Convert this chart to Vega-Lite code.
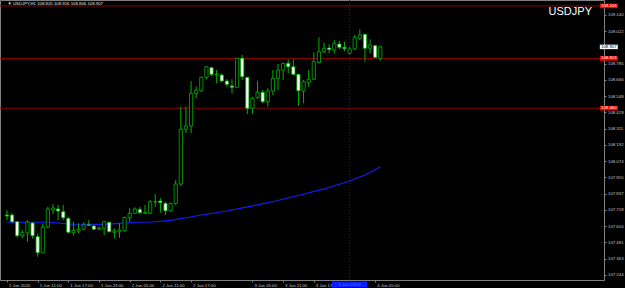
{
  "$schema": "https://vega.github.io/schema/vega-lite/v6.json",
  "width": 604,
  "height": 280,
  "autosize": {"type": "none"},
  "padding": {"left": 0, "top": 0, "right": 21, "bottom": 8},
  "background": "#000000",
  "config": {
    "view": {"stroke": "#808080", "strokeWidth": 1},
    "font": "Liberation Sans",
    "axis": {
      "labelOverlap": false,
      "labelFlush": false,
      "labelBound": false,
      "grid": false,
      "title": null,
      "domainColor": "#808080",
      "tickColor": "#808080",
      "tickSize": 2,
      "labelColor": "#c8c8c8",
      "labelFontSize": 4.3,
      "labelFont": "Liberation Sans"
    }
  },
  "datasets": {
    "candles": [
      {"i":0,"o":107.681,"h":107.717,"l":107.644,"c":107.674},
      {"i":1,"o":107.681,"h":107.695,"l":107.623,"c":107.632},
      {"i":2,"o":107.632,"h":107.637,"l":107.515,"c":107.530},
      {"i":3,"o":107.530,"h":107.571,"l":107.511,"c":107.552},
      {"i":4,"o":107.550,"h":107.644,"l":107.486,"c":107.630},
      {"i":5,"o":107.623,"h":107.628,"l":107.511,"c":107.530},
      {"i":6,"o":107.523,"h":107.547,"l":107.377,"c":107.406},
      {"i":7,"o":107.406,"h":107.620,"l":107.402,"c":107.593},
      {"i":8,"o":107.593,"h":107.741,"l":107.584,"c":107.725},
      {"i":9,"o":107.717,"h":107.761,"l":107.688,"c":107.732},
      {"i":10,"o":107.725,"h":107.754,"l":107.644,"c":107.710},
      {"i":11,"o":107.705,"h":107.754,"l":107.644,"c":107.661},
      {"i":12,"o":107.657,"h":107.668,"l":107.547,"c":107.555},
      {"i":13,"o":107.552,"h":107.632,"l":107.530,"c":107.569},
      {"i":14,"o":107.564,"h":107.620,"l":107.547,"c":107.577},
      {"i":15,"o":107.577,"h":107.628,"l":107.571,"c":107.608},
      {"i":16,"o":107.610,"h":107.644,"l":107.601,"c":107.606},
      {"i":17,"o":107.601,"h":107.608,"l":107.571,"c":107.577},
      {"i":18,"o":107.577,"h":107.596,"l":107.571,"c":107.586},
      {"i":19,"o":107.584,"h":107.639,"l":107.535,"c":107.632},
      {"i":20,"o":107.628,"h":107.632,"l":107.555,"c":107.559},
      {"i":21,"o":107.555,"h":107.584,"l":107.511,"c":107.566},
      {"i":22,"o":107.559,"h":107.620,"l":107.515,"c":107.571},
      {"i":23,"o":107.566,"h":107.668,"l":107.559,"c":107.664},
      {"i":24,"o":107.661,"h":107.730,"l":107.632,"c":107.693},
      {"i":25,"o":107.693,"h":107.737,"l":107.688,"c":107.725},
      {"i":26,"o":107.722,"h":107.741,"l":107.688,"c":107.698},
      {"i":27,"o":107.693,"h":107.754,"l":107.688,"c":107.700},
      {"i":28,"o":107.693,"h":107.790,"l":107.688,"c":107.778},
      {"i":29,"o":107.776,"h":107.834,"l":107.741,"c":107.779},
      {"i":30,"o":107.783,"h":107.803,"l":107.698,"c":107.771},
      {"i":31,"o":107.766,"h":107.778,"l":107.681,"c":107.712},
      {"i":32,"o":107.712,"h":107.771,"l":107.705,"c":107.766},
      {"i":33,"o":107.766,"h":107.936,"l":107.754,"c":107.907},
      {"i":34,"o":107.907,"h":108.471,"l":107.892,"c":108.306},
      {"i":35,"o":108.306,"h":108.471,"l":108.279,"c":108.330},
      {"i":36,"o":108.330,"h":108.658,"l":108.277,"c":108.568},
      {"i":37,"o":108.568,"h":108.617,"l":108.532,"c":108.593},
      {"i":38,"o":108.587,"h":108.690,"l":108.580,"c":108.685},
      {"i":39,"o":108.685,"h":108.768,"l":108.671,"c":108.762},
      {"i":40,"o":108.755,"h":108.762,"l":108.695,"c":108.707},
      {"i":41,"o":108.704,"h":108.738,"l":108.641,"c":108.709},
      {"i":42,"o":108.702,"h":108.714,"l":108.653,"c":108.658},
      {"i":43,"o":108.658,"h":108.671,"l":108.617,"c":108.634},
      {"i":44,"o":108.622,"h":108.671,"l":108.568,"c":108.612},
      {"i":45,"o":108.612,"h":108.826,"l":108.612,"c":108.824},
      {"i":46,"o":108.824,"h":108.848,"l":108.666,"c":108.690},
      {"i":47,"o":108.685,"h":108.685,"l":108.418,"c":108.459},
      {"i":48,"o":108.459,"h":108.544,"l":108.418,"c":108.532},
      {"i":49,"o":108.539,"h":108.660,"l":108.527,"c":108.576},
      {"i":50,"o":108.576,"h":108.593,"l":108.496,"c":108.507},
      {"i":51,"o":108.507,"h":108.605,"l":108.471,"c":108.585},
      {"i":52,"o":108.585,"h":108.738,"l":108.556,"c":108.678},
      {"i":53,"o":108.678,"h":108.782,"l":108.593,"c":108.738},
      {"i":54,"o":108.738,"h":108.792,"l":108.666,"c":108.787},
      {"i":55,"o":108.787,"h":108.816,"l":108.714,"c":108.762},
      {"i":56,"o":108.762,"h":108.816,"l":108.702,"c":108.707},
      {"i":57,"o":108.707,"h":108.709,"l":108.476,"c":108.587},
      {"i":58,"o":108.585,"h":108.666,"l":108.496,"c":108.653},
      {"i":59,"o":108.646,"h":108.738,"l":108.617,"c":108.671},
      {"i":60,"o":108.671,"h":108.868,"l":108.666,"c":108.799},
      {"i":61,"o":108.792,"h":108.977,"l":108.787,"c":108.872},
      {"i":62,"o":108.872,"h":108.938,"l":108.860,"c":108.897},
      {"i":63,"o":108.899,"h":108.926,"l":108.860,"c":108.887},
      {"i":64,"o":108.884,"h":108.957,"l":108.860,"c":108.933},
      {"i":65,"o":108.928,"h":108.952,"l":108.889,"c":108.904},
      {"i":66,"o":108.904,"h":108.945,"l":108.877,"c":108.894},
      {"i":67,"o":108.860,"h":108.908,"l":108.853,"c":108.892},
      {"i":68,"o":108.892,"h":108.994,"l":108.884,"c":108.977},
      {"i":69,"o":108.970,"h":109.035,"l":108.957,"c":108.994},
      {"i":70,"o":108.999,"h":109.001,"l":108.799,"c":108.897},
      {"i":71,"o":108.897,"h":108.962,"l":108.860,"c":108.921},
      {"i":72,"o":108.916,"h":108.921,"l":108.824,"c":108.831},
      {"i":73,"o":108.820,"h":108.916,"l":108.806,"c":108.907}
    ],
    "ma": [
      {"i":0,"v":107.628},{"i":8,"v":107.628},{"i":12.5,"v":107.615},{"i":19,"v":107.613},
      {"i":22,"v":107.620},{"i":25,"v":107.628},{"i":28.5,"v":107.630},{"i":32,"v":107.642},
      {"i":35,"v":107.661},{"i":38,"v":107.681},{"i":43,"v":107.710},{"i":48,"v":107.747},
      {"i":52.5,"v":107.783},{"i":57.3,"v":107.827},{"i":62,"v":107.871},{"i":67,"v":107.929},
      {"i":70,"v":107.973},{"i":73,"v":108.031}
    ],
    "levels": [
      {"p":109.206,"t":"109.206"},
      {"p":108.823,"t":"108.823"},
      {"p":108.460,"t":"108.460"}
    ],
    "current": [{"p":108.907,"t":"108.907"}],
    "cursor": [{"i":67,"t":"3 Jun 23:00"}]
  },
  "layer": [
    {
      "data": {"name": "ma"},
      "mark": {"type": "line", "color": "#1a1aff", "strokeWidth": 1.2},
      "encoding": {
        "x": {"field": "i", "type": "quantitative",
          "scale": {"domain": [-0.385, 115.77], "nice": false, "zero": false},
          "axis": {
            "orient": "bottom",
            "values": [0,6,12,18,24,30,36,48,54,60,72],
            "tickCount": 100,
            "labelExpr": "datum.value==0?'1 Jun 2020':datum.value==6?'1 Jun 11:00':datum.value==12?'1 Jun 17:00':datum.value==18?'1 Jun 23:00':datum.value==24?'2 Jun 05:00':datum.value==30?'2 Jun 11:00':datum.value==36?'2 Jun 17:00':datum.value==48?'3 Jun 05:00':datum.value==54?'3 Jun 11:00':datum.value==60?'3 Jun 17:00':'4 Jun 05:00'",
            "labelAlign": "left",
            "labelBaseline": "top",
            "labelPadding": 1,
            "labelOffset": 1.5,
            "labelOverlap": false
          }
        },
        "y": {"field": "v", "type": "quantitative",
          "scale": {"domain": [107.207, 109.249], "nice": false, "zero": false},
          "axis": {
            "orient": "right",
            "values": [109.140,109.022,108.785,108.666,108.548,108.429,108.311,108.192,108.074,107.955,107.837,107.718,107.600,107.481,107.363,107.244],
            "tickCount": 100,
            "format": ".3f",
            "labelPadding": 1.5,
            "labelOverlap": false
          }
        }
      }
    },
    {
      "data": {"name": "levels"},
      "mark": {"type": "rule", "color": "#8f0000", "strokeWidth": 1},
      "encoding": {"y": {"field": "p", "type": "quantitative"}}
    },
    {
      "data": {"name": "cursor"},
      "mark": {"type": "rule", "color": "#1c1ca8", "strokeWidth": 1, "strokeDash": [1, 2]},
      "encoding": {"x": {"field": "i", "type": "quantitative"}}
    },
    {
      "data": {"name": "candles"},
      "mark": {"type": "rule", "color": "#00b400", "strokeWidth": 1},
      "encoding": {
        "x": {"field": "i", "type": "quantitative"},
        "y": {"field": "l", "type": "quantitative"},
        "y2": {"field": "h"}
      }
    },
    {
      "data": {"name": "candles"},
      "mark": {"type": "bar", "width": 3.2, "stroke": "#00b400", "strokeWidth": 0.8},
      "encoding": {
        "x": {"field": "i", "type": "quantitative"},
        "y": {"field": "o", "type": "quantitative"},
        "y2": {"field": "c"},
        "fill": {"condition": {"test": "datum.c < datum.o", "value": "#ffffff"}, "value": "#000000"}
      }
    },
    {
      "data": {"name": "levels"},
      "mark": {"type": "point", "shape": "M-1,-0.25H1V0.25H-1Z", "size": 324, "filled": true, "fill": "#ff0000", "opacity": 1, "strokeWidth": 0},
      "encoding": {"x": {"datum": 117.69}, "y": {"field": "p", "type": "quantitative"}}
    },
    {
      "data": {"name": "levels"},
      "mark": {"type": "text", "color": "#ffffff", "fontSize": 4.3, "font": "Liberation Sans", "align": "center", "baseline": "middle"},
      "encoding": {"x": {"datum": 117.69}, "y": {"field": "p", "type": "quantitative"}, "text": {"field": "t"}}
    },
    {
      "data": {"name": "current"},
      "mark": {"type": "point", "shape": "M-1,-0.25H1V0.25H-1Z", "size": 324, "filled": true, "fill": "#ffffff", "opacity": 1, "strokeWidth": 0},
      "encoding": {"x": {"datum": 117.69}, "y": {"field": "p", "type": "quantitative"}}
    },
    {
      "data": {"name": "current"},
      "mark": {"type": "text", "color": "#000000", "fontSize": 4.3, "font": "Liberation Sans", "align": "center", "baseline": "middle"},
      "encoding": {"x": {"datum": 117.69}, "y": {"field": "p", "type": "quantitative"}, "text": {"field": "t"}}
    },
    {
      "data": {"name": "cursor"},
      "mark": {"type": "point", "shape": "M-1,-0.17H1V0.17H-1Z", "size": 1267, "filled": true, "fill": "#0a1eff", "opacity": 1, "strokeWidth": 0},
      "encoding": {"x": {"field": "i", "type": "quantitative"}, "y": {"datum": 107.174}}
    },
    {
      "data": {"name": "cursor"},
      "mark": {"type": "text", "color": "#5a78ff", "fontSize": 4.3, "font": "Liberation Sans", "align": "center", "baseline": "middle"},
      "encoding": {"x": {"field": "i", "type": "quantitative"}, "y": {"datum": 107.174}, "text": {"field": "t"}}
    },
    {
      "data": {"values": [{"t": "\u25bc USDJPY,H1  108.820 108.916 108.806 108.907"}]},
      "mark": {"type": "text", "color": "#e0e0e0", "fontSize": 4.3, "font": "Liberation Sans", "align": "left", "baseline": "middle"},
      "encoding": {"x": {"datum": 0.1}, "y": {"datum": 109.220}, "text": {"field": "t"}}
    },
    {
      "data": {"values": [{"t": "USDJPY"}]},
      "mark": {"type": "text", "color": "#ffffff", "fontSize": 11, "font": "Liberation Sans", "align": "right", "baseline": "middle"},
      "encoding": {"x": {"datum": 114.4}, "y": {"datum": 109.161}, "text": {"field": "t"}}
    }
  ]
}
